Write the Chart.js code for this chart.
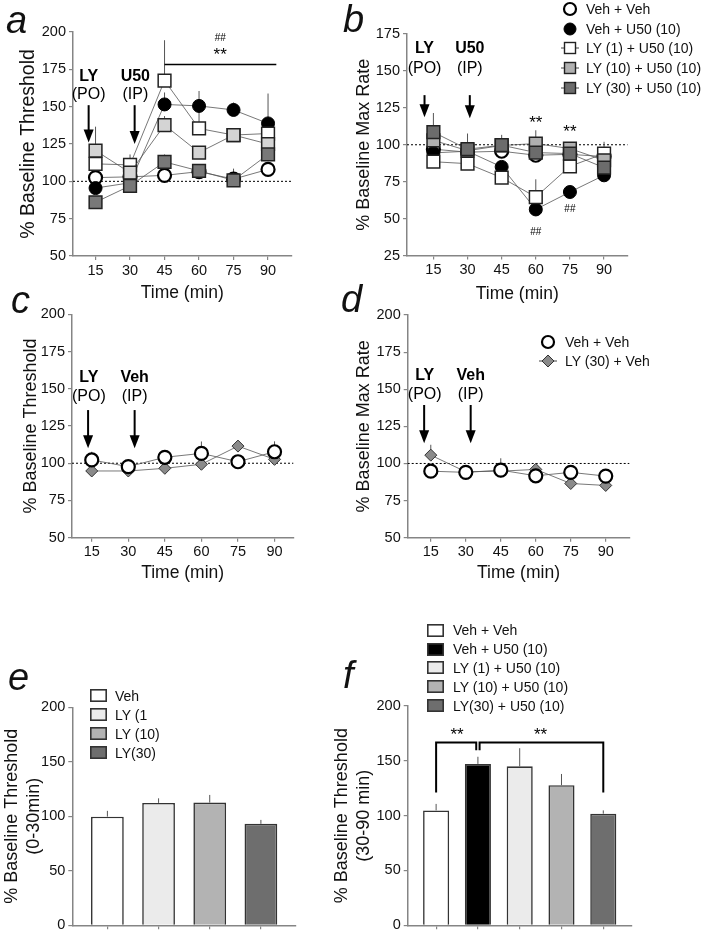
<!DOCTYPE html>
<html>
<head>
<meta charset="utf-8">
<script src="https://cdn.jsdelivr.net/npm/chart.js@4.4.1/dist/chart.umd.min.js"></script>
<style>
  body { margin: 0; background: #fff; width: 702px; height: 937px; position: relative; overflow: hidden;
         font-family: "Liberation Sans", Arial, sans-serif; color: #111; }
  canvas { position: absolute; }
  .letter { position: absolute; font: italic 38px "Liberation Sans", Arial, sans-serif; line-height: 38px; }
  .legend { position: absolute; font-size: 14px; }
  .legend .row { display: flex; align-items: center; white-space: nowrap; }
  .legend svg { flex: none; }
</style>
</head>
<body>
<canvas id="chartA" width="302" height="305" style="left:0;top:0"></canvas>
<canvas id="chartB" width="308" height="305" style="left:330px;top:0"></canvas>
<canvas id="chartC" width="302" height="306" style="left:0;top:280px"></canvas>
<canvas id="chartD" width="308" height="306" style="left:330px;top:280px"></canvas>
<canvas id="chartE" width="302" height="247" style="left:0;top:690px"></canvas>
<canvas id="chartF" width="308" height="247" style="left:330px;top:690px"></canvas>

<div class="letter" style="left:6px;top:1px">a</div>
<div class="letter" style="left:343px;top:0px">b</div>
<div class="letter" style="left:11px;top:281px">c</div>
<div class="letter" style="left:341px;top:280px">d</div>
<div class="letter" style="left:8px;top:658px">e</div>
<div class="letter" style="left:343px;top:656px">f</div>

<div id="legB" class="legend" style="left:560px;top:-1px"></div>
<div id="legD" class="legend" style="left:538px;top:332px"></div>
<div id="legE" class="legend" style="left:90px;top:686px"></div>
<div id="legF" class="legend" style="left:427px;top:621px"></div>

<script>
// ---------- data ----------
const timeMin = [15, 30, 45, 60, 75, 90];
const groupsAB = ['Veh + Veh', 'Veh + U50 (10)', 'LY (1) + U50 (10)', 'LY (10) + U50 (10)', 'LY (30) + U50 (10)'];
const groupsCD = ['Veh + Veh', 'LY (30) + Veh'];

// a: % baseline threshold
const aVehVeh = [102.5, 103, 104, 106.5, 101.5, 108];
const aVehU50 = [95.5, 99, 151.5, 150.5, 147.8, 138.8];
const aLY1    = [111.7, 111, 167.5, 135.4, 131, 132];
const aLY10   = [120.6, 105.8, 137.7, 119.3, 131, 125];
const aLY30   = [86, 97, 113, 107, 100.7, 118];
const aErrVehVeh = [3, 2, 3, 3, 7, 3];
const aErrVehU50 = [3, 3, 8, 10, 5, 20];
const aErrLY1    = [3, 7, 27, 13, 3, 4];
const aErrLY10   = [16, 3, 6, 4, 3, 4];
const aErrLY30   = [3, 3, 5, 3, 3, 4];

// b: % baseline max rate
const bVehVeh = [97, 95, 95.6, 92.9, 93.5, 92];
const bVehU50 = [94.5, 95.6, 85, 56.2, 68, 79.3];
const bLY1    = [88.5, 87.2, 77.7, 64.6, 85.4, 94];
const bLY10   = [103, 96, 99.5, 100.8, 97.4, 89.5];
const bLY30   = [108.5, 97, 99.7, 94.7, 94, 84.5];
const bErrVehVeh = [2, 2, 2, 2, 2, 2];
const bErrVehU50 = [2, 2, 3, 2, 3, 2];
const bErrLY1    = [2, 2, 2, 12, 3, 8];
const bErrLY10   = [3, 4, 3, 9, 3, 3];
const bErrLY30   = [13, 10.6, 7, 3, 3, 3];

// c: % baseline threshold, vehicle second injection
const cVehVeh = [102.2, 97.7, 104, 106.6, 101, 107.7];
const cLY30   = [94.8, 94.8, 96.6, 99.3, 111.5, 102.6];
const cErrVehVeh = [5.5, 2, 2, 8, 2, 7];
const cErrLY30   = [2, 2, 2, 2, 3, 2];

// d: % baseline max rate, vehicle second injection
const dVehVeh = [94.8, 94, 95.5, 91.7, 94, 91.5];
const dLY30   = [105.6, 94.4, 94.8, 96, 86.5, 85.2];
const dErrVehVeh = [2, 2, 8, 2, 2, 2];
const dErrLY30   = [7, 2, 2, 3, 2, 2];

// e: 0-30 min
const eGroups = ['Veh', 'LY (1', 'LY (10)', 'LY(30)'];
const eValues = [99.7, 112.3, 112.6, 93.1];
const eErr    = [5.3, 4.2, 7, 3.6];

// f: 30-90 min
const fGroups = ['Veh + Veh', 'Veh + U50 (10)', 'LY (1) + U50 (10)', 'LY (10) + U50 (10)', 'LY(30) + U50 (10)'];
const fValues = [104.8, 147.2, 145, 127.8, 101.8];
const fErr    = [5.9, 6.5, 16.5, 10.2, 3];

const ticks200 = [50, 75, 100, 125, 150, 175, 200];
const ticks175 = [25, 50, 75, 100, 125, 150, 175];
const ticksBar = [0, 50, 100, 150, 200];

// ---------- styles ----------
const FONT = '"Liberation Sans", Arial, sans-serif';
Chart.defaults.font.family = FONT;
Chart.defaults.color = '#111';
Chart.defaults.animation = false;
const AXIS = '#858585';

const styleVehVeh = {pointStyle: 'circle', pointRadius: 6.5, pointBackgroundColor: '#fff', pointBorderColor: '#000', pointBorderWidth: 2.2};
const styleVehU50 = {pointStyle: 'circle', pointRadius: 6.5, pointBackgroundColor: '#000', pointBorderColor: '#000', pointBorderWidth: 1};
const sq = (fill) => ({pointStyle: 'rect', pointRadius: 9, pointBackgroundColor: fill, pointBorderColor: '#222', pointBorderWidth: 1.5});
const styleDiamond = {pointStyle: 'rectRot', pointRadius: 6, pointBackgroundColor: '#8a8a8a', pointBorderColor: '#333', pointBorderWidth: 1};

function series(label, vals, err, style, order) {
  return Object.assign({
    label, order, errUp: err,
    data: timeMin.map((t, i) => ({x: t, y: vals[i]})),
    showLine: true, borderColor: '#555', borderWidth: 0.8, tension: 0, clip: false
  }, style);
}

// ---------- plugins ----------
const errorBars = {
  id: 'errorBars',
  beforeDatasetsDraw(chart) {
    const {ctx} = chart, y = chart.scales.y;
    ctx.save();
    ctx.strokeStyle = '#555';
    ctx.lineWidth = 1;
    chart.data.datasets.forEach((ds, i) => {
      if (!ds.errUp) return;
      chart.getDatasetMeta(i).data.forEach((el, j) => {
        const v = ds.data[j];
        const val = typeof v === 'object' ? v.y : v;
        ctx.beginPath();
        ctx.moveTo(el.x, y.getPixelForValue(val));
        ctx.lineTo(el.x, y.getPixelForValue(val + ds.errUp[j]));
        ctx.stroke();
      });
    });
    ctx.restore();
  }
};

const baseline100 = {
  id: 'baseline100',
  beforeDatasetsDraw(chart) {
    const {ctx, chartArea} = chart;
    const py = chart.scales.y.getPixelForValue(100);
    ctx.save();
    ctx.strokeStyle = '#000';
    ctx.lineWidth = 1;
    ctx.setLineDash([2, 2]);
    ctx.beginPath();
    ctx.moveTo(chartArea.left, py);
    ctx.lineTo(chartArea.right, py);
    ctx.stroke();
    ctx.restore();
  }
};

function annotations(list) {
  return {
    id: 'annot',
    afterDatasetsDraw(chart) {
      const {ctx} = chart, xs = chart.scales.x, ys = chart.scales.y;
      const X = v => xs.getPixelForValue(v), Y = v => ys.getPixelForValue(v);
      ctx.save();
      list.forEach(a => {
        if (a.text) {
          ctx.font = (a.bold ? 'bold ' : '') + (a.size || 16) + 'px ' + FONT;
          ctx.fillStyle = '#000';
          ctx.textAlign = 'center';
          ctx.textBaseline = 'middle';
          ctx.fillText(a.text, X(a.x), Y(a.y));
        } else if (a.arrow) {
          const px = X(a.x), y0 = Y(a.y0), y1 = Y(a.y1);
          ctx.strokeStyle = '#000';
          ctx.fillStyle = '#000';
          ctx.lineWidth = 2;
          ctx.beginPath();
          ctx.moveTo(px, y0);
          ctx.lineTo(px, y1 - 10);
          ctx.stroke();
          ctx.beginPath();
          ctx.moveTo(px - 5, y1 - 13);
          ctx.lineTo(px + 5, y1 - 13);
          ctx.lineTo(px, y1);
          ctx.closePath();
          ctx.fill();
        } else if (a.path) {
          ctx.strokeStyle = '#000';
          ctx.lineWidth = a.width || 1.5;
          ctx.beginPath();
          a.path.forEach(([vx, vy], k) => k ? ctx.lineTo(X(vx), Y(vy)) : ctx.moveTo(X(vx), Y(vy)));
          ctx.stroke();
        }
      });
      ctx.restore();
    }
  };
}

// ---------- panel builders ----------
function axisY(p) {
  return {
    type: 'linear', min: p.yMin, max: p.yMax,
    afterFit: s => { s.width = p.area.l - p.left; },
    afterBuildTicks: s => { s.ticks = p.yTicks.map(v => ({value: v})); },
    grid: {display: true, drawOnChartArea: false, drawTicks: true, tickLength: 4, color: AXIS, lineWidth: 1.2},
    border: {display: true, color: AXIS, width: 1.5},
    ticks: {font: {size: 14.5}, padding: 3, color: '#111'},
    title: {display: true, text: p.yTitle, font: {size: p.yTitleSize || 18, weight: 'normal'}, color: '#111',
            padding: {top: p.yTitlePad, bottom: 0}}
  };
}

function axisX(p, extra) {
  return Object.assign({
    type: 'linear', min: p.xMin, max: p.xMax, offset: false,
    afterFit: s => { s.height = p.top + p.height - p.area.b; },
    afterBuildTicks: s => { s.ticks = p.xTicks.map(v => ({value: v})); },
    grid: {display: true, drawOnChartArea: false, drawTicks: true, tickLength: 4, color: AXIS, lineWidth: 1.2, offset: false},
    border: {display: true, color: AXIS, width: 1.5},
    ticks: {font: {size: 14.5}, padding: 2, color: '#111', maxRotation: 0, autoSkip: false}
  }, extra);
}

function layoutPadding(p) {
  return {top: p.area.t - p.top, right: p.left + p.width - p.area.r, left: 0, bottom: 0};
}

function linePanel(p) {
  return new Chart(document.getElementById(p.id), {
    type: 'scatter',
    data: {datasets: p.datasets},
    options: {
      responsive: false,
      layout: {padding: layoutPadding(p)},
      plugins: {legend: {display: false}, tooltip: {enabled: false}},
      scales: {
        x: axisX(p, {title: {display: true, text: 'Time (min)', font: {size: 17.5, weight: 'normal'}, color: '#111',
                             padding: {top: 0, bottom: p.xTitlePad}}}),
        y: axisY(p)
      }
    },
    plugins: [baseline100, errorBars, annotations(p.ann)]
  });
}

function barPanel(p) {
  return new Chart(document.getElementById(p.id), {
    type: 'bar',
    data: {datasets: [{
      data: p.values.map((v, i) => ({x: i, y: v})),
      errUp: p.err,
      backgroundColor: p.colors,
      borderColor: '#333', borderWidth: 1.6,
      barPercentage: p.barPct, categoryPercentage: 0.8
    }]},
    options: {
      responsive: false,
      layout: {padding: layoutPadding(p)},
      plugins: {legend: {display: false}, tooltip: {enabled: false}},
      scales: {
        x: axisX(p, {ticks: {callback: () => '', font: {size: 14}}}),
        y: axisY(p)
      }
    },
    plugins: [errorBars, annotations(p.ann || [])]
  });
}

// ---------- panels ----------
const colA = {ly10: '#d4d4d4', ly30: '#787878'};
const colB = {ly10: '#b0b0b0', ly30: '#6c6c6c'};

linePanel({
  id: 'chartA', left: 0, top: 0, width: 302, height: 305,
  area: {l: 73, r: 296, t: 32, b: 256},
  xMin: 5.2, xMax: 100.2, xTicks: timeMin, yMin: 50, yMax: 200, yTicks: ticks200,
  yTitle: '% Baseline Threshold', yTitleSize: 19.5, yTitlePad: 17.3, xTitlePad: 1.5,
  datasets: [
    series(groupsAB[0], aVehVeh, aErrVehVeh, styleVehVeh, 5),
    series(groupsAB[1], aVehU50, aErrVehU50, styleVehU50, 4),
    series(groupsAB[2], aLY1, aErrLY1, sq('#fff'), 3),
    series(groupsAB[3], aLY10, aErrLY10, sq(colA.ly10), 2),
    series(groupsAB[4], aLY30, aErrLY30, sq(colA.ly30), 1)
  ],
  ann: [
    {text: 'LY', bold: true, x: 12, y: 170}, {text: '(PO)', x: 12, y: 158.3},
    {text: 'U50', bold: true, x: 32.3, y: 170}, {text: '(IP)', x: 32.3, y: 158.3},
    {arrow: true, x: 12, y0: 151, y1: 126}, {arrow: true, x: 32, y0: 151, y1: 125},
    {path: [[45, 178.3], [93.6, 178.3]]},
    {text: '**', x: 69.2, y: 184.5, size: 17}, {text: '##', x: 69.2, y: 195.7, size: 10}
  ]
});

linePanel({
  id: 'chartB', left: 330, top: 0, width: 308, height: 305,
  area: {l: 407, r: 632, t: 34, b: 255.5},
  xMin: 3.4, xMax: 100.3, xTicks: timeMin, yMin: 25, yMax: 175, yTicks: ticks175,
  yTitle: '% Baseline Max Rate', yTitlePad: 23, xTitlePad: 0,
  datasets: [
    series(groupsAB[0], bVehVeh, bErrVehVeh, styleVehVeh, 5),
    series(groupsAB[1], bVehU50, bErrVehU50, styleVehU50, 4),
    series(groupsAB[2], bLY1, bErrLY1, sq('#fff'), 3),
    series(groupsAB[3], bLY10, bErrLY10, sq(colB.ly10), 2),
    series(groupsAB[4], bLY30, bErrLY30, sq(colB.ly30), 1)
  ],
  ann: [
    {text: 'LY', bold: true, x: 11.1, y: 165.3}, {text: '(PO)', x: 11.1, y: 151.7},
    {text: 'U50', bold: true, x: 31, y: 165.3}, {text: '(IP)', x: 31, y: 151.7},
    {arrow: true, x: 11.1, y0: 133.6, y1: 118.7}, {arrow: true, x: 31, y0: 133.6, y1: 118},
    {text: '**', x: 60, y: 114.5, size: 17}, {text: '**', x: 75, y: 108.6, size: 17},
    {text: '##', x: 60, y: 40.8, size: 10}, {text: '##', x: 75, y: 56.2, size: 10}
  ]
});

linePanel({
  id: 'chartC', left: 0, top: 280, width: 302, height: 306,
  area: {l: 72, r: 297, t: 314.3, b: 537.7},
  xMin: 6.9, xMax: 97.7, xTicks: timeMin, yMin: 50, yMax: 200, yTicks: ticks200,
  yTitle: '% Baseline Threshold', yTitlePad: 20, xTitlePad: 2.5,
  datasets: [
    series(groupsCD[0], cVehVeh, cErrVehVeh, styleVehVeh, 1),
    series(groupsCD[1], cLY30, cErrLY30, styleDiamond, 2)
  ],
  ann: [
    {text: 'LY', bold: true, x: 13.8, y: 157.7}, {text: '(PO)', x: 13.8, y: 144.7},
    {text: 'Veh', bold: true, x: 32.6, y: 157.7}, {text: '(IP)', x: 32.6, y: 144.7},
    {arrow: true, x: 13.5, y0: 135.7, y1: 110}, {arrow: true, x: 32.6, y0: 135.7, y1: 110}
  ]
});

linePanel({
  id: 'chartD', left: 330, top: 280, width: 308, height: 306,
  area: {l: 407.7, r: 631, t: 315, b: 537.7},
  xMin: 5.1, xMax: 100.1, xTicks: timeMin, yMin: 50, yMax: 200, yTicks: ticks200,
  yTitle: '% Baseline Max Rate', yTitlePad: 23, xTitlePad: 2.5,
  datasets: [
    series(groupsCD[0], dVehVeh, dErrVehVeh, styleVehVeh, 1),
    series(groupsCD[1], dLY30, dErrLY30, styleDiamond, 2)
  ],
  ann: [
    {text: 'LY', bold: true, x: 12.4, y: 158.9}, {text: '(PO)', x: 12.4, y: 146.1},
    {text: 'Veh', bold: true, x: 32.1, y: 158.9}, {text: '(IP)', x: 32.1, y: 146.1},
    {arrow: true, x: 12.15, y0: 139.4, y1: 113.6}, {arrow: true, x: 32.1, y0: 139.4, y1: 113.6}
  ]
});

barPanel({
  id: 'chartE', left: 0, top: 690, width: 302, height: 247,
  area: {l: 72.3, r: 296, t: 707.3, b: 929.3},
  xMin: -0.686, xMax: eValues.length - 1 + 0.686, xTicks: eGroups.map((_, i) => i),
  yMin: 0, yMax: 200, yTicks: ticksBar,
  yTitle: ['% Baseline Threshold', '(0-30min)'], yTitlePad: 1.7,
  values: eValues, err: eErr, barPct: 0.8,
  colors: ['#ffffff', '#ebebeb', '#b3b3b3', '#6e6e6e']
});

barPanel({
  id: 'chartF', left: 330, top: 690, width: 308, height: 247,
  area: {l: 407.7, r: 631.7, t: 706, b: 929.3},
  xMin: -0.68, xMax: fValues.length - 1 + 0.68, xTicks: fGroups.map((_, i) => i),
  yMin: 0, yMax: 200, yTicks: ticksBar,
  yTitle: ['% Baseline Threshold', '(30-90 min)'], yTitlePad: 1.7,
  values: fValues, err: fErr, barPct: 0.78,
  colors: ['#ffffff', '#000000', '#ebebeb', '#b3b3b3', '#6e6e6e'],
  ann: [
    {path: [[0, 121], [0, 166.6], [0.96, 166.6], [0.96, 159.7]], width: 2},
    {path: [[1.04, 159.7], [1.04, 166.6], [4, 166.6], [4, 121]], width: 2},
    {text: '**', x: 0.5, y: 173.5, size: 17}, {text: '**', x: 2.5, y: 173.5, size: 17}
  ]
});

// ---------- HTML legends ----------
function markerSvg(kind, fill) {
  const line = '<line x1="1" y1="8" x2="19" y2="8" stroke="#444" stroke-width="1"/>';
  if (kind === 'circle') {
    const sw = fill === '#000' ? 1 : 2.2;
    return `<svg width="20" height="16"><circle cx="10" cy="8" r="6" fill="${fill}" stroke="#000" stroke-width="${sw}"/></svg>`;
  }
  if (kind === 'rect') {
    return `<svg width="20" height="16">${line}<rect x="4.5" y="2.5" width="11" height="11" fill="${fill}" stroke="#222" stroke-width="1.4"/></svg>`;
  }
  if (kind === 'diamond') {
    return `<svg width="20" height="16">${line}<polygon points="10,2 16,8 10,14 4,8" fill="${fill}" stroke="#333" stroke-width="1"/></svg>`;
  }
  return `<svg width="17" height="13"><rect x="0.8" y="0.8" width="15.4" height="11.4" fill="${fill}" stroke="#333" stroke-width="1.6"/></svg>`;
}

function buildLegend(id, labels, markers, rowH, gap) {
  const el = document.getElementById(id);
  labels.forEach((lab, i) => {
    const row = document.createElement('div');
    row.className = 'row';
    row.style.height = rowH + 'px';
    row.innerHTML = markers[i] + `<span style="margin-left:${gap}px">${lab}</span>`;
    el.appendChild(row);
  });
}

buildLegend('legB', groupsAB, [
  markerSvg('circle', '#fff'), markerSvg('circle', '#000'), markerSvg('rect', '#fff'),
  markerSvg('rect', colB.ly10), markerSvg('rect', colB.ly30)
], 19.75, 6);
buildLegend('legD', groupsCD, [markerSvg('circle', '#fff'), markerSvg('diamond', '#8a8a8a')], 19.3, 7);
buildLegend('legE', eGroups, ['#ffffff', '#ebebeb', '#b3b3b3', '#6e6e6e'].map(c => markerSvg('box', c)), 19, 8);
buildLegend('legF', fGroups, ['#ffffff', '#000000', '#ebebeb', '#b3b3b3', '#6e6e6e'].map(c => markerSvg('box', c)), 18.8, 9);
</script>
</body>
</html>
